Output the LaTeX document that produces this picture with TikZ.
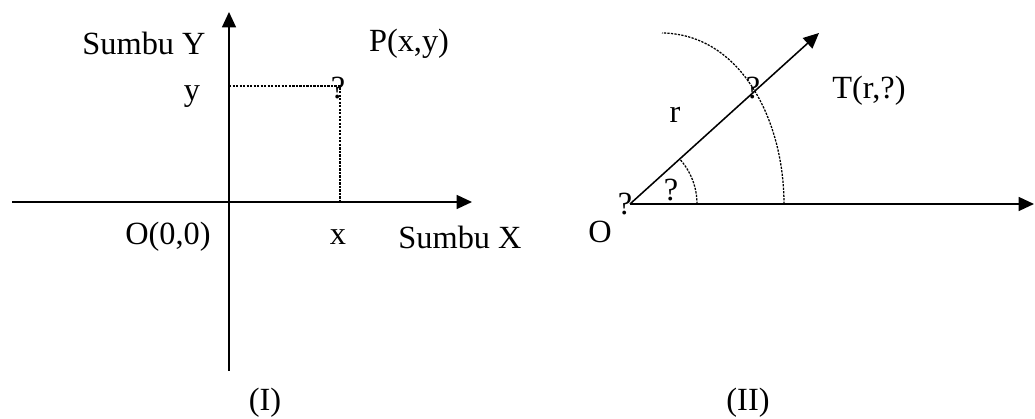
\documentclass[tikz,border=0pt]{standalone}
\usepackage{fontspec}
\setmainfont{Liberation Serif}
\usetikzlibrary{arrows.meta}

\begin{document}
\begin{tikzpicture}[x=0.025cm,y=0.025cm,every node/.style={font=\fontsize{23}{27}\selectfont,inner sep=0pt},
  axis/.style={line width=1.1pt,-{Triangle[length=11pt,width=10pt]}},
  guide/.style={line width=0.9pt,dash pattern=on 1.6pt off 0.9pt}]
\useasboundingbox (0,0) rectangle (1035,419);
% (I) cartesian
\coordinate (xl) at (12,217);
\coordinate (xr) at (472,217);
\coordinate (yb) at (229,48);
\coordinate (yt) at (229,407);
\coordinate (ymark) at (229,333);
\coordinate (xmark) at (340,217);
\coordinate (pt) at (340,333);
\draw[axis] (xl) -- (xr);
\draw[axis] (yb) -- (yt);
\draw[guide] (ymark) -- (pt) -- (xmark);
\node (p) at (338,331) {?};
\node (sumbuy) at (144,376) {Sumbu Y};
\node (ly) at (192,322) {y};
\node (lp) at (409,375) {P(x,y)};
\node (lo) at (168,182) {O(0,0)};
\node (lx) at (338,182) {x};
\node (sumbux) at (460,182) {Sumbu X};
\node (capI) at (265,16) {(I)};
% (II) polar
\coordinate (o) at (630,215);
\coordinate (ax) at (1034,215);
\coordinate (tip) at (819,386);
\draw[axis] (o) -- (ax);
\draw[axis] (o) -- (tip);
\draw[guide] (697,215) arc[start angle=0,end angle=42.1,radius=67];
\draw[guide] (784,215) .. controls (784,300) and (740,385) .. (662,386);
\node (t) at (753,331) {?};
\node (lt) at (869,328) {T(r,?)};
\node (lr) at (675,304) {r};
\node (ang) at (671,229) {?};
\node (q) at (625,215) {?};
\node (lo2) at (600,187) {O};
\node (capII) at (748,16) {(II)};
\end{tikzpicture}
\end{document}
